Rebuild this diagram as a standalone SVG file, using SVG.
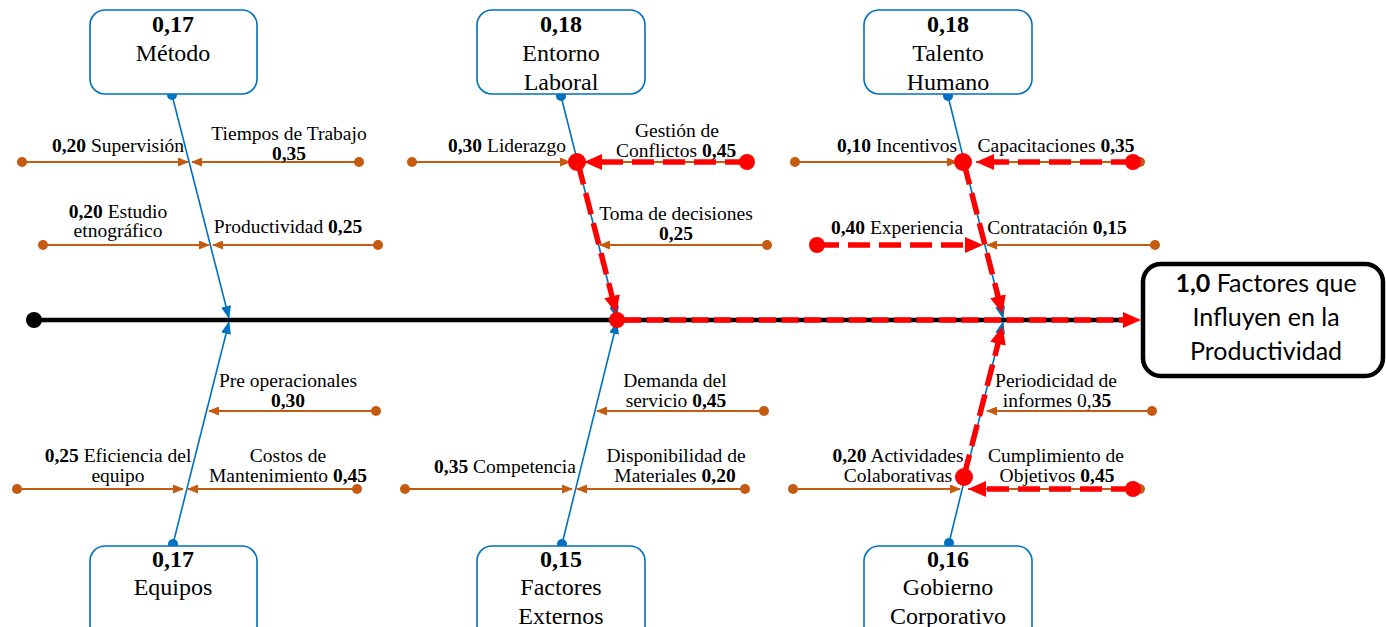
<svg xmlns="http://www.w3.org/2000/svg" width="1386" height="627" viewBox="0 0 1386 627">
  <style>
    .box { fill: #fff; stroke: #0070C0; stroke-width: 1.6; }
    .main-box { fill: #fff; stroke: #000; stroke-width: 4.5; }
    .bt { font-family: "Liberation Serif", "Times New Roman", serif; font-size: 24px; fill: #000; text-anchor: middle; }
    .lbl { font-family: "Liberation Serif", "Times New Roman", serif; font-size: 19.5px; fill: #000; text-anchor: middle; }
    .mt { font-family: Lato, "Open Sans", sans-serif; font-size: 25px; fill: #000; text-anchor: middle; }
    .b { font-weight: bold; }
    .spine { stroke: #000; stroke-width: 4.5; fill: none; }
    .bone { stroke: #0070C0; stroke-width: 1.6; fill: none; }
    .cause { stroke: #C55A11; stroke-width: 2; fill: none; }
    .crit { stroke: #FF0000; stroke-width: 5.5; stroke-dasharray: 22 9; fill: none; }
    .crit-main { stroke: #FF0000; stroke-width: 5.5; stroke-dasharray: 17 5.5; fill: none; }
    .dot-b { fill: #0070C0; }
    .dot-o { fill: #C55A11; }
    .dot-r { fill: #FF0000; }
  </style>
  <defs>
    <marker id="arr-o" markerUnits="userSpaceOnUse" markerWidth="11" markerHeight="9" refX="10" refY="4.5" orient="auto">
      <path d="M0,0 L11,4.5 L0,9 z" fill="#C55A11"/>
    </marker>
    <marker id="arr-b" markerUnits="userSpaceOnUse" markerWidth="13" markerHeight="10" refX="12" refY="5" orient="auto">
      <path d="M0,0 L13,5 L0,10 z" fill="#0070C0"/>
    </marker>
    <marker id="arr-r" markerUnits="userSpaceOnUse" markerWidth="18" markerHeight="16" refX="8" refY="8" orient="auto">
      <path d="M0,0 L18,8 L0,16 z" fill="#FF0000"/>
    </marker>
  </defs>

  <!-- connectors: spine, main bones, cause arrows and the critical path -->
  <g id="connectors">
    <line class="spine" x1="34" y1="320" x2="1130" y2="320"/>
    <circle cx="34" cy="320" r="8" fill="#000"/>

    <!-- main bones -->
    <line class="bone" x1="172" y1="95" x2="229" y2="318" marker-end="url(#arr-b)"/>
    <line class="bone" x1="173" y1="544" x2="229" y2="322" marker-end="url(#arr-b)"/>
    <line class="bone" x1="561" y1="96" x2="617" y2="318" marker-end="url(#arr-b)"/>
    <line class="bone" x1="562" y1="544" x2="617" y2="322" marker-end="url(#arr-b)"/>
    <line class="bone" x1="948" y1="96" x2="1003" y2="318" marker-end="url(#arr-b)"/>
    <line class="bone" x1="949" y1="543" x2="1003" y2="322" marker-end="url(#arr-b)"/>
    <circle class="dot-b" cx="172" cy="95" r="5"/>
    <circle class="dot-b" cx="173" cy="544" r="5"/>
    <circle class="dot-b" cx="561" cy="96" r="5"/>
    <circle class="dot-b" cx="562" cy="544" r="5"/>
    <circle class="dot-b" cx="948" cy="96" r="5"/>
    <circle class="dot-b" cx="949" cy="543" r="5"/>

    <!-- cause arrows: Método -->
    <line class="cause" x1="22" y1="162" x2="188" y2="162" marker-end="url(#arr-o)"/>
    <line class="cause" x1="359" y1="162" x2="192" y2="162" marker-end="url(#arr-o)"/>
    <line class="cause" x1="43" y1="245" x2="209" y2="245" marker-end="url(#arr-o)"/>
    <line class="cause" x1="378" y1="245" x2="213" y2="245" marker-end="url(#arr-o)"/>
    <circle class="dot-o" cx="22" cy="162" r="5"/>
    <circle class="dot-o" cx="359" cy="162" r="5"/>
    <circle class="dot-o" cx="43" cy="245" r="5"/>
    <circle class="dot-o" cx="378" cy="245" r="5"/>

    <!-- cause arrows: Equipos -->
    <line class="cause" x1="376" y1="411" x2="209" y2="411" marker-end="url(#arr-o)"/>
    <line class="cause" x1="17" y1="489" x2="183" y2="489" marker-end="url(#arr-o)"/>
    <line class="cause" x1="357" y1="489" x2="188" y2="489" marker-end="url(#arr-o)"/>
    <circle class="dot-o" cx="376" cy="411" r="5"/>
    <circle class="dot-o" cx="17" cy="489" r="5"/>
    <circle class="dot-o" cx="357" cy="489" r="5"/>

    <!-- cause arrows: Entorno Laboral -->
    <line class="cause" x1="412" y1="162" x2="570" y2="162" marker-end="url(#arr-o)"/>
    <line class="cause" x1="747" y1="162" x2="584" y2="162"/>
    <line class="cause" x1="767" y1="245" x2="600" y2="245" marker-end="url(#arr-o)"/>
    <circle class="dot-o" cx="412" cy="162" r="5"/>
    <circle class="dot-o" cx="767" cy="245" r="5"/>

    <!-- cause arrows: Factores Externos -->
    <line class="cause" x1="764" y1="411" x2="597" y2="411" marker-end="url(#arr-o)"/>
    <line class="cause" x1="405" y1="489" x2="572" y2="489" marker-end="url(#arr-o)"/>
    <line class="cause" x1="745" y1="489" x2="577" y2="489" marker-end="url(#arr-o)"/>
    <circle class="dot-o" cx="764" cy="411" r="5"/>
    <circle class="dot-o" cx="405" cy="489" r="5"/>
    <circle class="dot-o" cx="745" cy="489" r="5"/>

    <!-- cause arrows: Talento Humano -->
    <line class="cause" x1="795" y1="162" x2="957" y2="162" marker-end="url(#arr-o)"/>
    <line class="cause" x1="1140" y1="162" x2="976" y2="162"/>
    <line class="cause" x1="1155" y1="245" x2="987" y2="245" marker-end="url(#arr-o)"/>
    <circle class="dot-o" cx="795" cy="162" r="5"/>
    <circle class="dot-o" cx="1140" cy="162" r="5"/>
    <circle class="dot-o" cx="1155" cy="245" r="5"/>

    <!-- cause arrows: Gobierno Corporativo -->
    <line class="cause" x1="1152" y1="411" x2="987" y2="411" marker-end="url(#arr-o)"/>
    <line class="cause" x1="793" y1="489" x2="960" y2="489" marker-end="url(#arr-o)"/>
    <line class="cause" x1="1140" y1="489" x2="968" y2="489"/>
    <circle class="dot-o" cx="1152" cy="411" r="5"/>
    <circle class="dot-o" cx="793" cy="489" r="5"/>
    <circle class="dot-o" cx="1140" cy="489" r="5"/>

    <!-- critical path (red dashed) -->
    <line class="crit-main" x1="624" y1="320" x2="1131" y2="320" marker-end="url(#arr-r)"/>
    <line class="crit" x1="747" y1="162" x2="594" y2="162" marker-end="url(#arr-r)"/>
    <line class="crit" x1="578" y1="163" x2="614" y2="304" marker-end="url(#arr-r)"/>
    <line class="crit" x1="1133" y1="162" x2="986" y2="162" marker-end="url(#arr-r)"/>
    <line class="crit" x1="964" y1="163" x2="1000" y2="304" marker-end="url(#arr-r)"/>
    <line class="crit" x1="817" y1="245" x2="973" y2="245" marker-end="url(#arr-r)"/>
    <line class="crit" x1="1133" y1="489" x2="978" y2="489" marker-end="url(#arr-r)"/>
    <line class="crit" x1="964" y1="476" x2="1000" y2="336" marker-end="url(#arr-r)"/>
    <circle class="dot-r" cx="617" cy="320" r="8"/>
    <circle class="dot-r" cx="577" cy="162" r="9"/>
    <circle class="dot-r" cx="747" cy="162" r="8"/>
    <circle class="dot-r" cx="963" cy="162" r="9"/>
    <circle class="dot-r" cx="1133" cy="162" r="8"/>
    <circle class="dot-r" cx="817" cy="245" r="8"/>
    <circle class="dot-r" cx="964" cy="477" r="9"/>
    <circle class="dot-r" cx="1133" cy="489" r="8"/>
  </g>

  <!-- effect -->
  <g id="node-efecto">
    <rect class="main-box" x="1143" y="264" width="240" height="112" rx="18"/>
    <text class="mt" x="1266" y="292"><tspan class="b">1,0</tspan> Factores que</text>
    <text class="mt" x="1266" y="326">Influyen en la</text>
    <text class="mt" x="1266" y="360">Productividad</text>
  </g>

  <!-- main categories -->
  <g id="node-metodo">
    <rect class="box" x="90" y="10" width="167" height="84" rx="15"/>
    <text class="bt b" x="173" y="32">0,17</text>
    <text class="bt" x="173" y="61">Método</text>
  </g>
  <g id="node-entorno">
    <rect class="box" x="477" y="10" width="168" height="84" rx="15"/>
    <text class="bt b" x="561" y="32">0,18</text>
    <text class="bt" x="561" y="61">Entorno</text>
    <text class="bt" x="561" y="90">Laboral</text>
  </g>
  <g id="node-talento">
    <rect class="box" x="864" y="10" width="168" height="84" rx="15"/>
    <text class="bt b" x="948" y="32">0,18</text>
    <text class="bt" x="948" y="61">Talento</text>
    <text class="bt" x="948" y="90">Humano</text>
  </g>
  <g id="node-equipos">
    <rect class="box" x="90" y="546" width="167" height="100" rx="15"/>
    <text class="bt b" x="173" y="567">0,17</text>
    <text class="bt" x="173" y="595">Equipos</text>
  </g>
  <g id="node-externos">
    <rect class="box" x="477" y="546" width="168" height="100" rx="15"/>
    <text class="bt b" x="561" y="567">0,15</text>
    <text class="bt" x="561" y="595">Factores</text>
    <text class="bt" x="561" y="624">Externos</text>
  </g>
  <g id="node-gobierno">
    <rect class="box" x="864" y="546" width="168" height="100" rx="15"/>
    <text class="bt b" x="948" y="567">0,16</text>
    <text class="bt" x="948" y="595">Gobierno</text>
    <text class="bt" x="948" y="624">Corporativo</text>
  </g>

  <!-- causes: Método -->
  <g id="causa-supervision"><text class="lbl" x="118" y="152"><tspan class="b">0,20</tspan> Supervisión</text></g>
  <g id="causa-tiempos"><text class="lbl" x="289" y="140">Tiempos de Trabajo</text><text class="lbl b" x="289" y="160">0,35</text></g>
  <g id="causa-estudio"><text class="lbl" x="118" y="218"><tspan class="b">0,20</tspan> Estudio</text><text class="lbl" x="118" y="237">etnográfico</text></g>
  <g id="causa-productividad"><text class="lbl" x="288" y="233">Productividad <tspan class="b">0,25</tspan></text></g>

  <!-- causes: Equipos -->
  <g id="causa-preoperacionales"><text class="lbl" x="288" y="387">Pre operacionales</text><text class="lbl b" x="288" y="407">0,30</text></g>
  <g id="causa-eficiencia"><text class="lbl" x="118" y="462"><tspan class="b">0,25</tspan> Eficiencia del</text><text class="lbl" x="118" y="482">equipo</text></g>
  <g id="causa-costos"><text class="lbl" x="288" y="462">Costos de</text><text class="lbl" x="288" y="482">Mantenimiento <tspan class="b">0,45</tspan></text></g>

  <!-- causes: Entorno Laboral -->
  <g id="causa-liderazgo"><text class="lbl" x="507" y="152"><tspan class="b">0,30</tspan> Liderazgo</text></g>
  <g id="causa-conflictos"><text class="lbl" x="677" y="137">Gestión de</text><text class="lbl" x="676" y="157">Conflictos <tspan class="b">0,45</tspan></text></g>
  <g id="causa-decisiones"><text class="lbl" x="676" y="220">Toma de decisiones</text><text class="lbl b" x="676" y="240">0,25</text></g>

  <!-- causes: Factores Externos -->
  <g id="causa-demanda"><text class="lbl" x="675" y="387">Demanda del</text><text class="lbl" x="676" y="407">servicio <tspan class="b">0,45</tspan></text></g>
  <g id="causa-competencia"><text class="lbl" x="505" y="473"><tspan class="b">0,35</tspan> Competencia</text></g>
  <g id="causa-materiales"><text class="lbl" x="676" y="462">Disponibilidad de</text><text class="lbl" x="675" y="482">Materiales <tspan class="b">0,20</tspan></text></g>

  <!-- causes: Talento Humano -->
  <g id="causa-incentivos"><text class="lbl" x="897" y="152"><tspan class="b">0,10</tspan> Incentivos</text></g>
  <g id="causa-capacitaciones"><text class="lbl" x="1056" y="152">Capacitaciones <tspan class="b">0,35</tspan></text></g>
  <g id="causa-experiencia"><text class="lbl" x="897" y="234"><tspan class="b">0,40</tspan> Experiencia</text></g>
  <g id="causa-contratacion"><text class="lbl" x="1057" y="234">Contratación <tspan class="b">0,15</tspan></text></g>

  <!-- causes: Gobierno Corporativo -->
  <g id="causa-informes"><text class="lbl" x="1056" y="387">Periodicidad de</text><text class="lbl" x="1057" y="407">informes 0,<tspan class="b">35</tspan></text></g>
  <g id="causa-colaborativas"><text class="lbl" x="898" y="462"><tspan class="b">0,20</tspan> Actividades</text><text class="lbl" x="898" y="482">Colaborativas</text></g>
  <g id="causa-objetivos"><text class="lbl" x="1056" y="462">Cumplimiento de</text><text class="lbl" x="1057" y="482">Objetivos <tspan class="b">0,45</tspan></text></g>
</svg>
